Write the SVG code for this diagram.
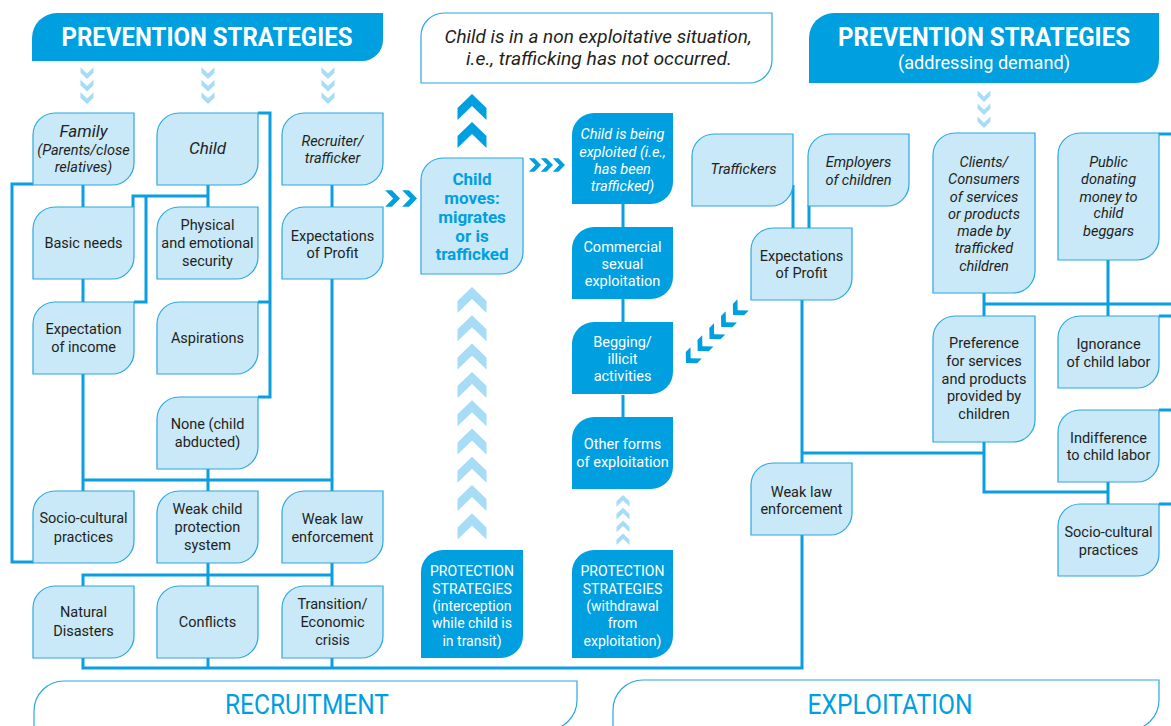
<svg xmlns="http://www.w3.org/2000/svg" xmlns:xlink="http://www.w3.org/1999/xlink" width="1171" height="726" viewBox="0 0 1171 726">
<defs>
<style>
.n{fill:#c9e8f8;stroke:#2aa8e0;stroke-width:1.2}
.d{fill:#009fe0}
.wb{fill:#fff;stroke:#2aa8e0;stroke-width:1.2}
.c{fill:none;stroke:#0a9fe0;stroke-width:3}
.t{font-family:Roboto,"Liberation Sans",sans-serif;font-size:14.5px;fill:#231f20;text-anchor:middle;dominant-baseline:central}
.i{font-style:italic}
.w{fill:#fff}
.b{font-weight:bold}
.lc{fill:#a6dcf5}
.dc{fill:#009fe0}
.hd{font-size:25px}
.sub{font-size:17.5px}
.tb{font-size:18.5px}
.big{font-size:17px}
.mv{font-size:17px;fill:#009fe0}
.ps{font-size:14px}
.lab{font-size:27px;fill:#009fe0}
</style>
<path id="leaf" d="M22,0H101V50A22,22 0 0 1 79,72H0V22A22,22 0 0 1 22,0Z"/>
<path id="chev" d="M0,0L14.5,14V26L0,12L-14.5,26V14Z"/>
</defs>
<rect width="1171" height="726" fill="#fff"/>

<g id="connectors" class="c">
<path d="M33,184H12V562H33"/>
<path d="M83,184V207M83,279V302M83,373V491M83,480H332M208,468V491M332,279V491"/>
<path d="M208,184V207M208,196H133V207M146,196V302H134"/>
<path d="M258,113H270V397H258M258,302H270"/>
<path d="M332,184V207"/>
<path d="M83,586V575H332M208,563V586M332,563V586"/>
<path d="M83,658V668H802V535M208,658V668M332,658V668"/>
<path d="M623,204V227M623,299V322M623,395V417"/>
<path d="M793,185V228M809,205V228M802,299V463M802,453H984M984,442V492H1108M1108,482V504"/>
<path d="M984,293V316M984,304H1171M1108,260V316"/>
<path d="M1159,134H1171M1159,316H1171M1159,410H1171M1159,504H1171"/>
</g>

<g id="chevrons">
<g class="lc">
<use xlink:href="#chev" transform="translate(87,79) scale(0.45,-0.45)"/>
<use xlink:href="#chev" transform="translate(87,91.5) scale(0.45,-0.45)"/>
<use xlink:href="#chev" transform="translate(87,104) scale(0.45,-0.45)"/>
<use xlink:href="#chev" transform="translate(208,79) scale(0.45,-0.45)"/>
<use xlink:href="#chev" transform="translate(208,91.5) scale(0.45,-0.45)"/>
<use xlink:href="#chev" transform="translate(208,104) scale(0.45,-0.45)"/>
<use xlink:href="#chev" transform="translate(328,79) scale(0.45,-0.45)"/>
<use xlink:href="#chev" transform="translate(328,91.5) scale(0.45,-0.45)"/>
<use xlink:href="#chev" transform="translate(328,104) scale(0.45,-0.45)"/>
<use xlink:href="#chev" transform="translate(984,102) scale(0.44,-0.44)"/>
<use xlink:href="#chev" transform="translate(984,115) scale(0.44,-0.44)"/>
<use xlink:href="#chev" transform="translate(984,128) scale(0.44,-0.44)"/>
<use xlink:href="#chev" transform="translate(472,287)"/>
<use xlink:href="#chev" transform="translate(472,315.3)"/>
<use xlink:href="#chev" transform="translate(472,343.6)"/>
<use xlink:href="#chev" transform="translate(472,371.9)"/>
<use xlink:href="#chev" transform="translate(472,400.2)"/>
<use xlink:href="#chev" transform="translate(472,428.5)"/>
<use xlink:href="#chev" transform="translate(472,456.8)"/>
<use xlink:href="#chev" transform="translate(472,485.1)"/>
<use xlink:href="#chev" transform="translate(472,513.4)"/>
<use xlink:href="#chev" transform="translate(623,495) scale(0.45)"/>
<use xlink:href="#chev" transform="translate(623,507.8) scale(0.45)"/>
<use xlink:href="#chev" transform="translate(623,520.6) scale(0.45)"/>
<use xlink:href="#chev" transform="translate(623,533.4) scale(0.45)"/>
</g>
<g class="dc">
<use xlink:href="#chev" transform="translate(472,94)"/>
<use xlink:href="#chev" transform="translate(472,122)"/>
<use xlink:href="#chev" transform="translate(400,198.5) rotate(90) scale(0.57)"/>
<use xlink:href="#chev" transform="translate(417,198.5) rotate(90) scale(0.57)"/>
<use xlink:href="#chev" transform="translate(541,165) rotate(90) scale(0.47)"/>
<use xlink:href="#chev" transform="translate(553,165) rotate(90) scale(0.47)"/>
<use xlink:href="#chev" transform="translate(565,165) rotate(90) scale(0.47)"/>
<use xlink:href="#chev" transform="translate(733,315) rotate(-135) scale(0.55)"/>
<use xlink:href="#chev" transform="translate(721.2,327) rotate(-135) scale(0.55)"/>
<use xlink:href="#chev" transform="translate(709.5,339) rotate(-135) scale(0.55)"/>
<use xlink:href="#chev" transform="translate(697.7,351) rotate(-135) scale(0.55)"/>
<use xlink:href="#chev" transform="translate(686,363) rotate(-135) scale(0.55)"/>
</g>
</g>

<g id="header-left">
<path class="d" d="M57,13H383V40A21,21 0 0 1 362,61H32V38A25,25 0 0 1 57,13Z"/>
<text class="t w b hd" x="207" y="37" textLength="291" lengthAdjust="spacingAndGlyphs">PREVENTION STRATEGIES</text>
</g>
<g id="header-right">
<path class="d" d="M834,13H1159V60A23,23 0 0 1 1136,83H809V38A25,25 0 0 1 834,13Z"/>
<text class="t w b hd" x="984" y="37" textLength="292" lengthAdjust="spacingAndGlyphs">PREVENTION STRATEGIES</text>
<text class="t w sub" x="984" y="63" textLength="172" lengthAdjust="spacingAndGlyphs">(addressing demand)</text>
</g>
<g id="no-trafficking">
<path class="wb" d="M444,13H772V60A23,23 0 0 1 749,83H421V36A23,23 0 0 1 444,13Z"/>
<text class="t i tb" x="598" y="37" textLength="307" lengthAdjust="spacingAndGlyphs">Child is in a non exploitative situation,</text>
<text class="t i tb" x="599" y="58.5" textLength="266" lengthAdjust="spacingAndGlyphs">i.e., trafficking has not occurred.</text>
</g>

<g id="family"><use xlink:href="#leaf" class="n" x="33" y="113"/>
<text class="t i big" x="83.5" y="131">Family</text>
<text class="t i" x="83.5" y="150">(Parents/close</text>
<text class="t i" x="83.5" y="167">relatives)</text></g>
<g id="child"><use xlink:href="#leaf" class="n" x="157" y="113"/>
<text class="t i big" x="207.5" y="148">Child</text></g>
<g id="recruiter"><use xlink:href="#leaf" class="n" x="282" y="113"/>
<text class="t i" x="332.5" y="141">Recruiter/</text>
<text class="t i" x="332.5" y="158">trafficker</text></g>
<g id="basic-needs"><use xlink:href="#leaf" class="n" x="33" y="207"/>
<text class="t" x="83.5" y="243">Basic needs</text></g>
<g id="security"><use xlink:href="#leaf" class="n" x="157" y="207"/>
<text class="t" x="207.5" y="225">Physical</text>
<text class="t" x="207.5" y="243">and emotional</text>
<text class="t" x="207.5" y="261">security</text></g>
<g id="profit-left"><use xlink:href="#leaf" class="n" x="282" y="207"/>
<text class="t" x="332.5" y="236">Expectations</text>
<text class="t" x="332.5" y="253">of Profit</text></g>
<g id="income"><use xlink:href="#leaf" class="n" x="33" y="302"/>
<text class="t" x="83.5" y="329">Expectation</text>
<text class="t" x="83.5" y="347">of income</text></g>
<g id="aspirations"><use xlink:href="#leaf" class="n" x="157" y="302"/>
<text class="t" x="207.5" y="338">Aspirations</text></g>
<g id="abducted"><use xlink:href="#leaf" class="n" x="157" y="397"/>
<text class="t" x="207.5" y="424">None (child</text>
<text class="t" x="207.5" y="442">abducted)</text></g>
<g id="socio-left"><use xlink:href="#leaf" class="n" x="33" y="491"/>
<text class="t" x="83.5" y="518">Socio-cultural</text>
<text class="t" x="83.5" y="537">practices</text></g>
<g id="weak-child"><use xlink:href="#leaf" class="n" x="157" y="491"/>
<text class="t" x="207.5" y="509">Weak child</text>
<text class="t" x="207.5" y="527">protection</text>
<text class="t" x="207.5" y="545">system</text></g>
<g id="weak-law-left"><use xlink:href="#leaf" class="n" x="282" y="491"/>
<text class="t" x="332.5" y="519">Weak law</text>
<text class="t" x="332.5" y="537">enforcement</text></g>
<g id="natural"><use xlink:href="#leaf" class="n" x="33" y="586"/>
<text class="t" x="83.5" y="612">Natural</text>
<text class="t" x="83.5" y="631">Disasters</text></g>
<g id="conflicts"><use xlink:href="#leaf" class="n" x="157" y="586"/>
<text class="t" x="207.5" y="622">Conflicts</text></g>
<g id="transition"><use xlink:href="#leaf" class="n" x="282" y="586"/>
<text class="t" x="332.5" y="604">Transition/</text>
<text class="t" x="332.5" y="622">Economic</text>
<text class="t" x="332.5" y="640">crisis</text></g>

<g id="child-moves">
<path class="n" d="M443,158H523V252A22,22 0 0 1 501,274H421V180A22,22 0 0 1 443,158Z"/>
<text class="t b mv" x="472" y="179">Child</text>
<text class="t b mv" x="472" y="198">moves:</text>
<text class="t b mv" x="472" y="217">migrates</text>
<text class="t b mv" x="472" y="236">or is</text>
<text class="t b mv" x="472" y="254">trafficked</text>
</g>
<g id="protection-transit">
<path class="d" d="M443,550H523V636A22,22 0 0 1 501,658H421V572A22,22 0 0 1 443,550Z"/>
<text class="t w ps" x="472" y="571">PROTECTION</text>
<text class="t w ps" x="472" y="589">STRATEGIES</text>
<text class="t w ps" x="472" y="606">(interception</text>
<text class="t w ps" x="472" y="623">while child is</text>
<text class="t w ps" x="472" y="641">in transit)</text>
</g>
<g id="exploited">
<path class="d" d="M594,113H673V182A22,22 0 0 1 651,204H572V135A22,22 0 0 1 594,113Z"/>
<text class="t w i" x="622.5" y="134">Child is being</text>
<text class="t w i" x="622.5" y="152">exploited (i.e.,</text>
<text class="t w i" x="622.5" y="169">has been</text>
<text class="t w i" x="622.5" y="186">trafficked)</text>
</g>
<g id="commercial"><use xlink:href="#leaf" class="d" x="572" y="227"/>
<text class="t w" x="622.5" y="247">Commercial</text>
<text class="t w" x="622.5" y="264">sexual</text>
<text class="t w" x="622.5" y="281">exploitation</text></g>
<g id="begging"><use xlink:href="#leaf" class="d" x="572" y="322"/>
<text class="t w" x="622.5" y="342">Begging/</text>
<text class="t w" x="622.5" y="359">illicit</text>
<text class="t w" x="622.5" y="376">activities</text></g>
<g id="other-forms"><use xlink:href="#leaf" class="d" x="572" y="417"/>
<text class="t w" x="622.5" y="444">Other forms</text>
<text class="t w" x="622.5" y="462">of exploitation</text></g>
<g id="protection-withdrawal">
<path class="d" d="M594,550H673V636A22,22 0 0 1 651,658H572V572A22,22 0 0 1 594,550Z"/>
<text class="t w ps" x="622.5" y="571">PROTECTION</text>
<text class="t w ps" x="622.5" y="589">STRATEGIES</text>
<text class="t w ps" x="622.5" y="606">(withdrawal</text>
<text class="t w ps" x="622.5" y="623">from</text>
<text class="t w ps" x="622.5" y="641">exploitation)</text>
</g>

<g id="traffickers"><use xlink:href="#leaf" class="n" x="692" y="134"/>
<text class="t i" x="743.5" y="169">Traffickers</text></g>
<g id="employers"><use xlink:href="#leaf" class="n" x="808" y="134"/>
<text class="t i" x="858.5" y="162">Employers</text>
<text class="t i" x="858.5" y="180">of children</text></g>
<g id="profit-right"><use xlink:href="#leaf" class="n" x="751" y="228"/>
<text class="t" x="801.5" y="256">Expectations</text>
<text class="t" x="801.5" y="273">of Profit</text></g>
<g id="weak-law-right"><use xlink:href="#leaf" class="n" x="751" y="463"/>
<text class="t" x="801.5" y="492">Weak law</text>
<text class="t" x="801.5" y="509">enforcement</text></g>
<g id="clients">
<path class="n" d="M955,133H1035V271A22,22 0 0 1 1013,293H933V155A22,22 0 0 1 955,133Z"/>
<text class="t i" x="984" y="162">Clients/</text>
<text class="t i" x="984" y="179">Consumers</text>
<text class="t i" x="984" y="197">of services</text>
<text class="t i" x="984" y="214">or products</text>
<text class="t i" x="984" y="231">made by</text>
<text class="t i" x="984" y="248">trafficked</text>
<text class="t i" x="984" y="266">children</text>
</g>
<g id="public">
<path class="n" d="M1080,133H1159V238A22,22 0 0 1 1137,260H1058V155A22,22 0 0 1 1080,133Z"/>
<text class="t i" x="1108.5" y="162">Public</text>
<text class="t i" x="1108.5" y="179">donating</text>
<text class="t i" x="1108.5" y="197">money to</text>
<text class="t i" x="1108.5" y="213">child</text>
<text class="t i" x="1108.5" y="231">beggars</text>
</g>
<g id="preference">
<path class="n" d="M955,316H1035V420A22,22 0 0 1 1013,442H933V338A22,22 0 0 1 955,316Z"/>
<text class="t" x="984" y="343">Preference</text>
<text class="t" x="984" y="361">for services</text>
<text class="t" x="984" y="379">and products</text>
<text class="t" x="984" y="396">provided by</text>
<text class="t" x="984" y="414">children</text>
</g>
<g id="ignorance"><use xlink:href="#leaf" class="n" x="1058" y="316"/>
<text class="t" x="1108.5" y="344">Ignorance</text>
<text class="t" x="1108.5" y="362">of child labor</text></g>
<g id="indifference"><use xlink:href="#leaf" class="n" x="1058" y="410"/>
<text class="t" x="1108.5" y="438">Indifference</text>
<text class="t" x="1108.5" y="455">to child labor</text></g>
<g id="socio-right"><use xlink:href="#leaf" class="n" x="1058" y="504"/>
<text class="t" x="1108.5" y="532">Socio-cultural</text>
<text class="t" x="1108.5" y="550">practices</text></g>

<g id="recruitment">
<path class="wb" d="M64,681H577V700A30,30 0 0 1 547,730H34V711A30,30 0 0 1 64,681Z"/>
<text class="t lab" x="307" y="705" textLength="164" lengthAdjust="spacingAndGlyphs">RECRUITMENT</text>
</g>
<g id="exploitation">
<path class="wb" d="M643,680H1159V700A30,30 0 0 1 1129,730H613V710A30,30 0 0 1 643,680Z"/>
<text class="t lab" x="890" y="705" textLength="165" lengthAdjust="spacingAndGlyphs">EXPLOITATION</text>
</g>
</svg>
